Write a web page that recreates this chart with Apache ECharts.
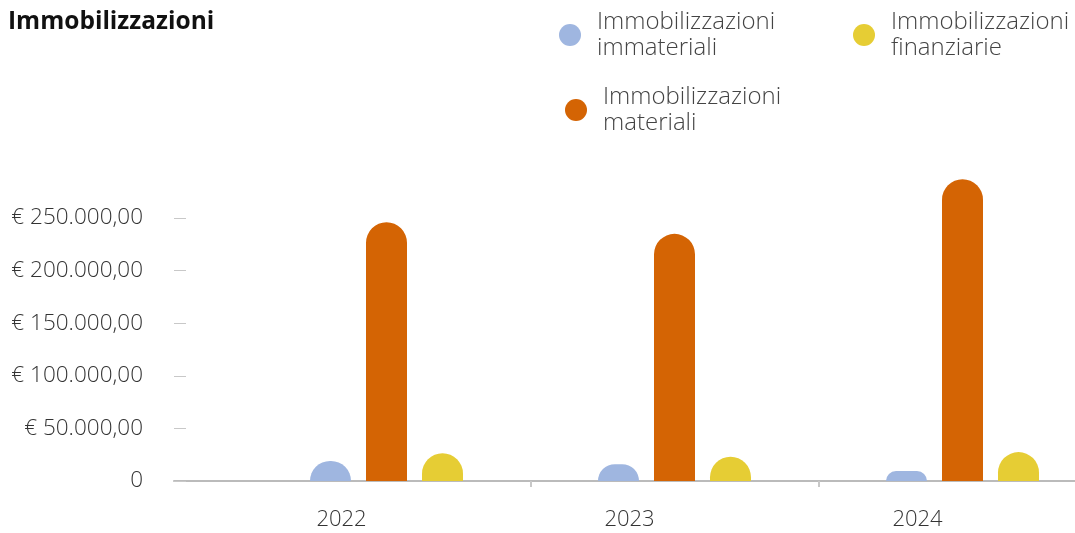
<!DOCTYPE html>
<html lang="it">
<head>
    <meta charset="UTF-8">
    <title>Immobilizzazioni</title>
    <script src="https://cdn.jsdelivr.net/npm/echarts@6/dist/echarts.min.js"></script>
    <style>
      html, body { margin: 0; padding: 0; background: #fff; }
    </style>
</head>
<body>
    <div id="main" style="width: 1075px;height:533px;"></div>
</body>

<script>
  // anni
  const years = ['2022', '2023', '2024']
  // valori per serie
  const immateriali = [19000, 16000, 9500]
  const materiali = [246000, 235000, 287000]
  const finanziarie = [26500, 23000, 27500]
  // etichette asse y
  const yTicks = [0, 50000, 100000, 150000, 200000, 250000]

  const names = ['Immobilizzazioni immateriali', 'Immobilizzazioni materiali', 'Immobilizzazioni finanziarie']
  const colors = ['#9fb6e0', '#d46404', '#e6cd34']

  const font = '"Open Sans", Lato, sans-serif'
  const yMax = 290000

  function euro(v) {
    if (v === 0) return '0'
    const s = String(Math.round(v)).replace(/\B(?=(\d{3})+(?!\d))/g, '.')
    return '€ ' + s + ',00'
  }

  function legendAt(name, left, top) {
    return {
      data: [name],
      left: left,
      top: top,
      padding: 0,
      icon: 'circle',
      itemWidth: 44,
      itemHeight: 22,
      selectedMode: false,
      formatter: n => n.replace(' ', '\n'),
      textStyle: {
        fontFamily: font,
        fontSize: 24,
        fontWeight: 300,
        lineHeight: 26,
        color: '#444'
      }
    }
  }

  const myChart = echarts.init(document.getElementById('main'))

  const option = {
    animation: false,
    title: {
      text: 'Immobilizzazioni',
      left: 8,
      top: 10,
      padding: 0,
      textStyle: {
        fontFamily: font,
        fontSize: 24.5,
        fontWeight: 'bold',
        color: '#111'
      }
    },
    legend: [
      legendAt(names[0], 559, 9),
      legendAt(names[2], 853, 9),
      legendAt(names[1], 565, 84)
    ],
    grid: [
      // griglia delle barre (sporge a destra oltre il bordo)
      { left: 242.5, width: 864, top: 176, bottom: 52, outerBoundsMode: 'none' },
      // griglia per asse y e linea di base
      { left: 174, right: 0, top: 176, bottom: 52, outerBoundsMode: 'none' }
    ],
    xAxis: [
      {
        type: 'category',
        gridIndex: 0,
        data: years,
        axisLine: { show: false },
        axisTick: {
          show: true,
          length: 6,
          interval: idx => idx > 0,
          lineStyle: { color: '#c8c8c8', width: 2 }
        },
        axisLabel: {
          margin: 28,
          formatter: v => '{a|' + v + '}',
          rich: {
            a: {
              fontFamily: font,
              fontSize: 22,
              fontWeight: 300,
              color: '#333',
              padding: [0, 90, 0, 0]
            }
          }
        }
      },
      {
        type: 'category',
        gridIndex: 1,
        data: years,
        axisLine: { show: true, lineStyle: { color: '#bbb', width: 2 } },
        axisTick: { show: false },
        axisLabel: { show: false }
      }
    ],
    yAxis: [
      {
        type: 'value',
        gridIndex: 0,
        min: 0,
        max: yMax,
        show: false,
        splitLine: { show: false }
      },
      {
        type: 'value',
        gridIndex: 1,
        min: 0,
        max: yMax,
        axisLine: { show: false },
        splitLine: { show: false },
        axisTick: {
          show: true,
          inside: true,
          length: 12,
          customValues: yTicks,
          lineStyle: { color: '#c8c8c8' }
        },
        axisLabel: {
          margin: 31,
          customValues: yTicks,
          formatter: euro,
          fontFamily: font,
          fontSize: 22.5,
          fontWeight: 300,
          color: '#333'
        }
      }
    ],
    series: [
      {
        name: names[0],
        type: 'bar',
        data: immateriali,
        barWidth: 41,
        barGap: '36.6%',
        itemStyle: { color: colors[0], borderRadius: [20.5, 20.5, 0, 0] }
      },
      {
        name: names[1],
        type: 'bar',
        data: materiali,
        barWidth: 41,
        barGap: '36.6%',
        itemStyle: { color: colors[1], borderRadius: [20.5, 20.5, 0, 0] }
      },
      {
        name: names[2],
        type: 'bar',
        data: finanziarie,
        barWidth: 41,
        barGap: '36.6%',
        itemStyle: { color: colors[2], borderRadius: [20.5, 20.5, 0, 0] }
      }
    ]
  }

  myChart.setOption(option)
</script>

</html>
